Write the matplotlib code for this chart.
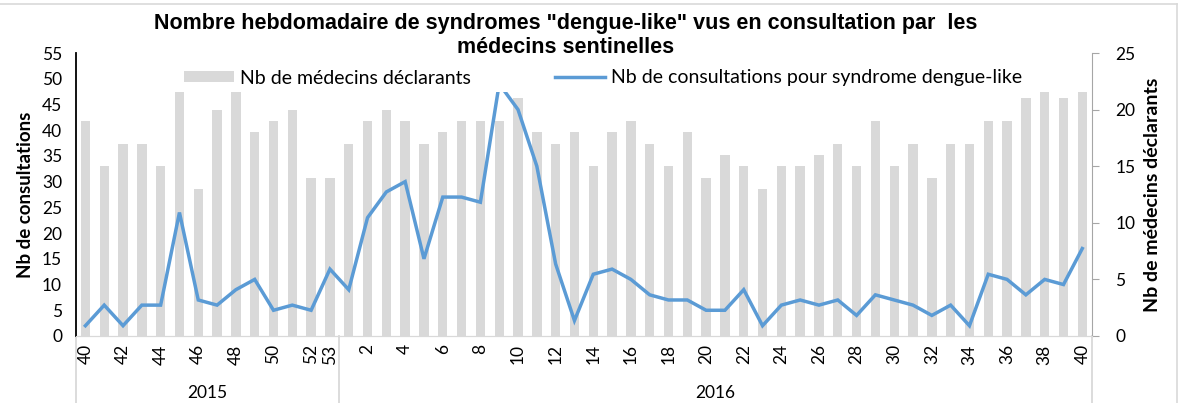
import numpy as np
import matplotlib.pyplot as plt
from matplotlib.patches import Rectangle, Patch
from matplotlib.lines import Line2D

# Données (semaines 40/2015 -> 40/2016)
semaines_2015 = list(range(40, 54))
semaines_2016 = list(range(1, 41))
semaines = semaines_2015 + semaines_2016

medecins = [19, 15, 17, 17, 15, 22, 13, 20, 22, 18, 19, 20, 14, 14,
            17, 19, 20, 19, 17, 18, 19, 19, 19, 21, 18, 17, 18, 15,
            18, 19, 17, 15, 18, 14, 16, 15, 13, 15, 15, 16, 17, 15,
            19, 15, 17, 14, 17, 17, 19, 19, 21, 22, 21, 22]
consultations = [2, 6, 2, 6, 6, 24, 7, 6, 9, 11, 5, 6, 5, 13,
                 9, 23, 28, 30, 15, 27, 27, 26, 49, 44, 33, 14, 3, 12,
                 13, 11, 8, 7, 7, 5, 5, 9, 2, 6, 7, 6, 7, 4,
                 8, 7, 6, 4, 6, 2, 12, 11, 8, 11, 10, 17]

annees = ['2015', '2016']

gris = '#D9D9D9'
bleu = '#5B9BD5'
police = 'Lato'

x = np.arange(len(semaines))

fig = plt.figure(figsize=(11.81, 4.03), dpi=100)
ax = fig.add_axes([76 / 1181, 1 - 336 / 403, (1091.7 - 76) / 1181, (336 - 53) / 403])
ax2 = ax.twinx()

# zone de tracé coupée sous la légende (comme dans Excel)
clip_h = (336 - 91.7) / (336 - 53)

barres = ax.bar(x, medecins, width=0.5, color=gris, zorder=1)
for b in barres:
    b.set_clip_path(Rectangle((0, 0), 1, clip_h, transform=ax.transAxes))

ligne, = ax2.plot(x, consultations, color=bleu, linewidth=2.5, solid_joinstyle='miter')
ligne.set_clip_path(Rectangle((0, 0), 1, clip_h, transform=ax2.transAxes))

ax.set_xlim(-0.5, len(semaines) - 0.5)
ax.set_ylim(0, 25)
ax2.set_ylim(0, 55)

# axe droit : médecins
ax.yaxis.tick_right()
ax.yaxis.set_label_position('right')
ax.set_yticks(range(0, 26, 5))
ax.tick_params(axis='y', direction='out', length=5, color='#A6A6A6', pad=12, labelsize=12.5)
ax.set_ylabel('Nb de médecins déclarants', fontsize=14, fontweight='bold', family=police, labelpad=6)

# axe gauche : consultations
ax2.yaxis.tick_left()
ax2.yaxis.set_label_position('left')
ax2.set_yticks(range(0, 56, 5))
ax2.tick_params(axis='y', length=0, pad=10, labelsize=12.5)
ax2.set_ylabel('Nb de consultations', fontsize=13.5, fontweight='bold', family=police, labelpad=6)

for a in (ax, ax2):
    for lab in a.get_yticklabels():
        lab.set_family(police)
    a.spines['top'].set_visible(False)

ax2.spines['left'].set_color('black')
ax2.spines['left'].set_linewidth(1.3)
ax2.spines['right'].set_color('#A6A6A6')
ax2.spines['bottom'].set_color(gris)
ax.spines['left'].set_visible(False)
ax.spines['right'].set_visible(False)
ax.spines['bottom'].set_color(gris)

# étiquettes des semaines (une sur deux)
labels = [str(s) if (s % 2 == 0 or s == 53) else '' for s in semaines]
ax.set_xticks(x)
ax.set_xticklabels(labels, rotation=90, family=police, fontsize=12.5)
ax.tick_params(axis='x', length=0, pad=6)
ax2.tick_params(axis='x', length=0)

# séparateurs et années
sep = [-0.5, len(semaines_2015) - 0.5, len(semaines) - 0.5]
for s in sep:
    ax.plot([s, s], [0, -0.25], transform=ax.get_xaxis_transform(), color=gris,
            linewidth=1.3, clip_on=False)
centres = [(sep[0] + sep[1]) / 2, (sep[1] + sep[2]) / 2]
for c, an in zip(centres, annees):
    ax.text(c, -0.2, an, transform=ax.get_xaxis_transform(), ha='center', va='center',
            family=police, fontsize=12.5)

# titre
fig.text(566 / 1181, 1 - 35.5 / 403,
         'Nombre hebdomadaire de syndromes "dengue-like" vus en consultation par  les\nmédecins sentinelles',
         ha='center', va='center', family='Liberation Sans', fontweight='bold', fontsize=15.5,
         linespacing=1.15)

# légende
handles = [Patch(facecolor=gris, edgecolor='none'),
           Line2D([0], [0], color=bleu, linewidth=2.5)]
fig.legend(handles, ['Nb de médecins déclarants', 'Nb de consultations pour syndrome dengue-like'],
           loc='center', bbox_to_anchor=(603 / 1181, 1 - 78 / 403), ncol=2, frameon=False,
           prop={'family': police, 'size': 14}, handlelength=2.6, handleheight=0.55,
           handletextpad=0.3, columnspacing=4.3)

# cadre du graphique
fig.add_artist(Line2D([0, 1177 / 1181], [1 - 4 / 403, 1 - 4 / 403], color=gris, linewidth=1.2))
fig.add_artist(Line2D([1177 / 1181, 1177 / 1181], [0, 1 - 4 / 403], color=gris, linewidth=1.2))

fig.savefig('out.png', dpi=100)
